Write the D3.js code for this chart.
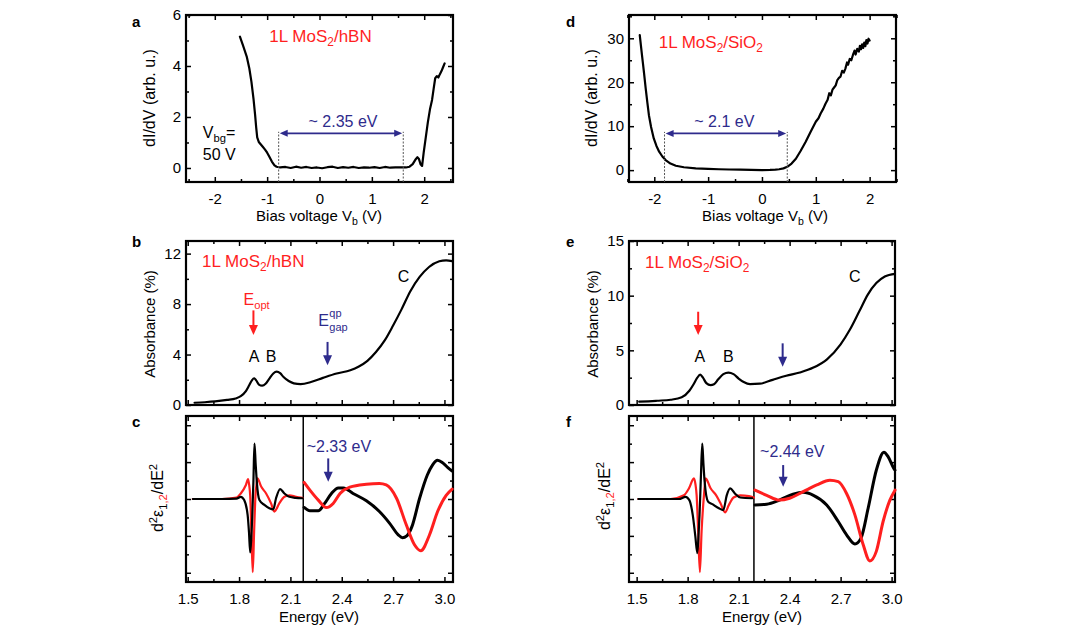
<!DOCTYPE html>
<html><head><meta charset="utf-8">
<script src="https://cdn.jsdelivr.net/npm/d3@7"></script>
<style>body{margin:0;background:#fff}svg{display:block}</style>
</head><body><svg id="fig" width="1087" height="638"></svg>
<script>
// ---------- DATA ----------
// Panel a: STS dI/dV on hBN, [bias V, dI/dV]
const aCurve = [[-1.52,5.15],[-1.46,4.8],[-1.39,4.37],[-1.34,3.9],[-1.30,3.38],[-1.26,2.7],[-1.23,2.08],[-1.21,1.6],[-1.19,1.2],[-1.16,1.02],[-1.12,0.92],[-1.08,0.82],[-1.04,0.72],[-1.00,0.6],[-0.96,0.45],[-0.91,0.25],[-0.86,0.1],[-0.82,0.05],[-0.75,0.02],[-0.65,0.04],[-0.55,0.0],[-0.45,0.05],[-0.35,0.01],[-0.25,0.04],[-0.15,0.0],[-0.05,0.02],[0.05,-0.01],[0.15,0.03],[0.25,0.05],[0.35,0.0],[0.45,0.03],[0.55,0.01],[0.65,0.04],[0.75,0.0],[0.85,0.02],[0.95,0.01],[1.05,0.03],[1.15,0.0],[1.25,0.04],[1.35,0.01],[1.45,0.02],[1.55,0.02],[1.65,0.02],[1.72,0.05],[1.78,0.15],[1.83,0.32],[1.87,0.42],[1.90,0.35],[1.93,0.15],[1.96,0.08],[1.99,0.6],[2.03,1.2],[2.07,1.8],[2.11,2.3],[2.15,2.67],[2.18,3.1],[2.21,3.52],[2.24,3.6],[2.27,3.55],[2.30,3.68],[2.33,3.8],[2.36,3.95],[2.39,4.1]];
// Panel d: STS dI/dV on SiO2
const dCurve = [[-2.27,30.7],[-2.25,28.5],[-2.23,26.3],[-2.21,24.2],[-2.19,22],[-2.16,18.6],[-2.13,15.5],[-2.10,12.5],[-2.06,9.8],[-2.01,7.2],[-1.96,5.5],[-1.91,4.2],[-1.85,3.1],[-1.79,2.3],[-1.70,1.5],[-1.60,1.0],[-1.45,0.65],[-1.23,0.4],[-1.0,0.3],[-0.8,0.2],[-0.61,0.15],[-0.4,0.1],[-0.2,0.05],[0,0.0],[0.15,0.05],[0.25,0.12],[0.32,0.2],[0.40,0.4],[0.47,0.75],[0.55,1.5],[0.63,2.6],[0.72,4.4],[0.81,6.4],[0.90,8.6],[1.00,11],[1.05,11.8],[1.09,12.9],[1.14,14.0],[1.18,15.1],[1.22,16.0],[1.25,17.5],[1.28,17.0],[1.31,18.3],[1.34,18.8],[1.37,19.3],[1.40,20.5],[1.43,21.0],[1.46,21.3],[1.49,22.6],[1.52,22.2],[1.55,23.1],[1.58,24.5],[1.60,24.0],[1.63,25.3],[1.66,25.0],[1.69,26.2],[1.72,27.2],[1.74,26.3],[1.77,27.6],[1.80,27.0],[1.82,28.3],[1.84,27.5],[1.86,28.6],[1.88,27.8],[1.90,29.0],[1.92,28.2],[1.94,29.6],[1.96,28.8],[1.98,29.9],[2.00,29.5]];
// Panel b: absorbance on hBN, [energy eV, %]
const bCurve = [[1.54,0.18],[1.60,0.22],[1.66,0.28],[1.73,0.4],[1.78,0.52],[1.81,0.7],[1.84,1.1],[1.86,1.58],[1.875,1.95],[1.888,2.12],[1.90,1.95],[1.916,1.62],[1.935,1.53],[1.955,1.68],[1.975,2.05],[2.0,2.5],[2.02,2.64],[2.04,2.52],[2.06,2.22],[2.09,1.9],[2.12,1.72],[2.16,1.66],[2.22,1.82],[2.29,2.15],[2.37,2.5],[2.45,2.75],[2.50,3.05],[2.55,3.5],[2.60,4.2],[2.65,5.1],[2.70,6.3],[2.75,7.6],[2.80,9.0],[2.855,10.15],[2.91,10.94],[2.97,11.39],[3.01,11.47],[3.045,11.4]];
// Panel e: absorbance on SiO2
const eCurve = [[1.515,0.3],[1.57,0.34],[1.62,0.39],[1.70,0.48],[1.765,0.7],[1.81,1.3],[1.835,1.9],[1.855,2.45],[1.874,2.78],[1.89,2.5],[1.91,2.0],[1.935,1.82],[1.955,1.9],[1.98,2.35],[2.01,2.82],[2.04,2.97],[2.07,2.82],[2.10,2.42],[2.13,2.1],[2.167,1.91],[2.225,1.95],[2.30,2.3],[2.38,2.67],[2.46,2.97],[2.54,3.42],[2.62,4.18],[2.70,5.55],[2.755,6.9],[2.81,8.57],[2.86,10.1],[2.91,11.15],[2.96,11.75],[3.02,12.0]];
// Panel c: second derivatives (black = eps1, red = eps2), left and right of divider
const cBlackL = [[1.53,0],[1.6,0],[1.7,0],[1.785,0.01],[1.81,0.06],[1.83,-0.03],[1.85,-0.43],[1.858,-0.9],[1.865,-1.45],[1.872,-1.0],[1.877,-0.5],[1.884,0.5],[1.89,1.5],[1.897,0.95],[1.904,0.45],[1.919,-0.03],[1.948,-0.16],[1.977,-0.25],[2.0,-0.28],[2.016,0.02],[2.04,0.27],[2.065,0.15],[2.094,0.06],[2.13,0.03],[2.17,0.02]];
const cRedL = [[1.53,0],[1.7,0],[1.785,0.04],[1.81,0.15],[1.84,0.38],[1.853,0.54],[1.86,0.35],[1.865,0.1],[1.872,-0.88],[1.88,-1.98],[1.888,-0.88],[1.896,0.1],[1.904,0.45],[1.907,0.56],[1.93,0.33],[1.958,0.15],[1.987,-0.12],[2.006,-0.34],[2.035,-0.12],[2.065,0.06],[2.094,0.1],[2.133,0.06],[2.17,0.03]];
const cBlackR = [[2.18,-0.23],[2.214,-0.32],[2.263,-0.32],[2.30,-0.12],[2.34,0.15],[2.38,0.3],[2.41,0.3],[2.466,0.15],[2.544,-0.05],[2.62,-0.34],[2.68,-0.66],[2.73,-0.97],[2.755,-1.05],[2.78,-1.0],[2.81,-0.75],[2.855,0.02],[2.90,0.65],[2.93,0.92],[2.96,1.05],[2.99,0.98],[3.02,0.85],[3.045,0.76]];
const cRedR = [[2.18,0.45],[2.214,0.24],[2.263,-0.03],[2.31,-0.23],[2.35,-0.12],[2.39,0.15],[2.447,0.32],[2.544,0.4],[2.62,0.42],[2.66,0.38],[2.72,0.02],[2.777,-0.7],[2.825,-1.24],[2.862,-1.4],[2.913,-0.97],[2.96,-0.34],[3.01,0.1],[3.045,0.27]];
// Panel f
const fBlackL = [[1.51,0],[1.6,0],[1.749,0.0],[1.788,0.06],[1.81,-0.03],[1.83,-0.43],[1.845,-1.0],[1.857,-1.47],[1.865,-0.9],[1.87,-0.43],[1.878,0.6],[1.886,1.5],[1.893,0.95],[1.90,0.47],[1.92,-0.07],[1.945,-0.14],[1.984,-0.25],[2.01,-0.3],[2.03,0.1],[2.05,0.29],[2.078,0.15],[2.11,0.04],[2.18,0.02]];
const fRedL = [[1.51,0],[1.70,0],[1.778,0.1],[1.808,0.29],[1.837,0.56],[1.846,0.4],[1.853,0.1],[1.862,-0.88],[1.872,-1.98],[1.882,-0.88],[1.896,0.1],[1.906,0.56],[1.935,0.29],[1.968,0.1],[1.994,-0.12],[2.02,-0.36],[2.043,-0.16],[2.07,0.04],[2.11,0.1],[2.16,0.08],[2.19,0.04]];
const fBlackR = [[2.196,-0.16],[2.265,-0.14],[2.34,-0.03],[2.42,0.13],[2.48,0.18],[2.54,0.1],[2.618,-0.16],[2.686,-0.61],[2.735,-0.97],[2.784,-1.22],[2.82,-1.06],[2.862,-0.25],[2.91,0.78],[2.955,1.27],[2.98,1.14],[3.013,0.83],[3.02,0.78]];
const fRedR = [[2.196,0.24],[2.265,0.1],[2.34,-0.03],[2.40,0.02],[2.48,0.2],[2.56,0.38],[2.637,0.51],[2.686,0.47],[2.735,0.15],[2.784,-0.43],[2.833,-1.24],[2.872,-1.68],[2.91,-1.42],[2.95,-0.61],[2.99,-0.03],[3.02,0.24]];

// Tick values
const biasMajor = [-2,-1,0,1,2], biasMinor = [-2.5,-1.5,-0.5,0.5,1.5,2.5];
const aYMajor = [0,2,4,6], aYMinor = [1,3,5];
const dYMajor = [0,10,20,30], dYMinor = [5,15,25,35];
const eMajor = [1.5,1.8,2.1,2.4,2.7,3.0], eMinor = [1.65,1.95,2.25,2.55,2.85];
const bYMajor = [0,4,8,12], bYMinor = [2,6,10];
const eYMajor = [0,5,10,15], eYMinor = [2.5,7.5,12.5];
const dYMaj2 = [-2,-1,0,1,2], dYMin2 = [-1.5,-0.5,0.5,1.5];

// ---------- DRAW ----------
const FONT = '"Liberation Sans", Arial, Helvetica, sans-serif';
const BLUE = '#2e2b8c', RED = '#ff1f1f';
const intFmt = d => String(d);           // plain hyphen minus like the original
const oneFmt = d => d.toFixed(1);
const svg = d3.select('#fig').style('font-family', FONT);
svg.append('rect').attr('width',1087).attr('height',638).attr('fill','#fff');

function axis(gen, tr, labels, fmt, pad) {
  const g = svg.append('g').attr('transform', tr).call(gen.tickFormat(labels ? fmt : '').tickPadding(pad || 4));
  g.select('.domain').remove();
  g.selectAll('line').attr('stroke','#000').attr('stroke-width',1.5);
  g.selectAll('text').attr('font-size',15).attr('font-family',FONT).attr('fill','#000');
  g.attr('font-size',null).attr('font-family',null);
  return g;
}
function panel(x, y, xMaj, xMin, yMaj, yMin, xLab, yLab, xFmt, yFmt) {
  const [x0,x1] = x.range(), [y0,y1] = y.range();
  axis(d3.axisBottom(x).tickValues(xMaj).tickSize(-5), `translate(0,${y0})`, xLab, xFmt, 11);
  axis(d3.axisBottom(x).tickValues(xMin).tickSize(-3), `translate(0,${y0})`, false);
  axis(d3.axisTop(x).tickValues(xMaj).tickSize(-5), `translate(0,${y1})`, false);
  axis(d3.axisTop(x).tickValues(xMin).tickSize(-3), `translate(0,${y1})`, false);
  axis(d3.axisLeft(y).tickValues(yMaj).tickSize(-5), `translate(${x0},0)`, yLab, yFmt, 5);
  axis(d3.axisLeft(y).tickValues(yMin).tickSize(-3), `translate(${x0},0)`, false);
  axis(d3.axisRight(y).tickValues(yMaj).tickSize(-5), `translate(${x1},0)`, false);
  axis(d3.axisRight(y).tickValues(yMin).tickSize(-3), `translate(${x1},0)`, false);
  svg.append('rect').attr('x',x0).attr('y',y1).attr('width',x1-x0).attr('height',y0-y1)
    .attr('fill','none').attr('stroke','#000').attr('stroke-width',2.2);
}
function curve(x, y, data, color, w, cv) {
  svg.append('path').datum(data).attr('fill','none').attr('stroke',color).attr('stroke-width',w)
    .attr('stroke-linejoin','round').attr('stroke-linecap','round')
    .attr('d', d3.line().x(d=>x(d[0])).y(d=>y(d[1])).curve(cv || d3.curveMonotoneX));
}
function downArrow(px, pyTop, pyTip, color) {
  svg.append('line').attr('x1',px).attr('x2',px).attr('y1',pyTop).attr('y2',pyTip-7)
    .attr('stroke',color).attr('stroke-width',2);
  svg.append('path').attr('d',`M${px-4.5},${pyTip-10}L${px+4.5},${pyTip-10}L${px},${pyTip}Z`).attr('fill',color);
}
function dblArrow(pxA, pxB, py, color) {
  svg.append('line').attr('x1',pxA+5).attr('x2',pxB-5).attr('y1',py).attr('y2',py)
    .attr('stroke',color).attr('stroke-width',1.8);
  svg.append('path').attr('d',`M${pxA},${py}L${pxA+8},${py-3.5}L${pxA+8},${py+3.5}Z`).attr('fill',color);
  svg.append('path').attr('d',`M${pxB},${py}L${pxB-8},${py-3.5}L${pxB-8},${py+3.5}Z`).attr('fill',color);
}
function vdotted(px, pyA, pyB) {
  svg.append('line').attr('x1',px).attr('x2',px).attr('y1',pyA).attr('y2',pyB)
    .attr('stroke','#555').attr('stroke-width',1).attr('stroke-dasharray','2,1.5');
}
function txt(px, py, parts, opt) {
  opt = opt || {};
  const t = svg.append('text').attr('x',px).attr('y',py).attr('font-size',opt.size||16)
    .attr('fill',opt.color||'#000').attr('text-anchor',opt.anchor||'start')
    .attr('font-weight',opt.weight||'normal').attr('font-family',FONT);
  if (opt.rotate) t.attr('transform',`rotate(-90,${px},${py})`);
  let shift = 0;
  (Array.isArray(parts)?parts:[parts]).forEach(p => {
    if (typeof p === 'string') p = {t:p};
    const target = p.sub ? 4 : p.sup ? -6 : 0;
    const s = t.append('tspan').text(p.t).attr('dy', target - shift);
    if (p.sub || p.sup) s.attr('font-size', (opt.size||16)*0.7);
    if (p.color) s.attr('fill', p.color);
    shift = target;
  });
  return t;
}
const hbn = ['1L MoS',{t:'2',sub:true},'/hBN'];
const sio = ['1L MoS',{t:'2',sub:true},'/SiO',{t:'2',sub:true}];
const d2eps = ['d',{t:'2',sup:true},'ε',{t:'1',sub:true},{t:',2',sub:true,color:RED},'/dE',{t:'2',sup:true}];

// ===== Panel a =====
{
  const x = d3.scaleLinear([-2.55,2.55],[186,453]);
  const y = d3.scaleLinear([-0.55,6],[182,15]);
  panel(x,y,biasMajor,biasMinor,aYMajor,aYMinor,true,true,intFmt,intFmt);
  curve(x,y,aCurve,'#000',2.2,d3.curveLinear);
  vdotted(x(-0.78), y(-0.55), y(1.42)); vdotted(x(1.6), y(-0.55), y(1.42));
  dblArrow(x(-0.76), x(1.58), y(1.36), BLUE);
  txt(x(0.45), y(1.62), '~ 2.35 eV', {color:BLUE, anchor:'middle'});
  txt(x(0.02), y(4.93), hbn, {color:RED, anchor:'middle', size:17});
  txt(x(-2.23), y(1.18), ['V',{t:'bg',sub:true},'='], {size:16});
  txt(x(-2.23), y(0.31), '50 V', {size:16});
  txt(319, 221, ['Bias voltage V',{t:'b',sub:true},' (V)'], {size:15, anchor:'middle'});
  txt(155, 98, 'dI/dV (arb. u.)', {size:16, anchor:'middle', rotate:true});
  txt(132, 27, 'a', {size:15, weight:'bold'});
}
// ===== Panel d =====
{
  const x = d3.scaleLinear([-2.47,2.49],[629,896]);
  const y = d3.scaleLinear([-2.7,35.3],[182,15]);
  panel(x,y,biasMajor,biasMinor,dYMajor,dYMinor,true,true,intFmt,intFmt);
  curve(x,y,dCurve,'#000',2.2,d3.curveLinear);
  vdotted(x(-1.81), y(-2.7), y(8.7)); vdotted(x(0.47), y(-2.7), y(8.7));
  dblArrow(x(-1.79), x(0.45), y(8.35), BLUE);
  txt(x(-0.70), y(9.86), '~ 2.1 eV', {color:BLUE, anchor:'middle'});
  txt(x(-0.95), y(27.7), sio, {color:RED, anchor:'middle', size:17});
  txt(765, 221, ['Bias voltage V',{t:'b',sub:true},' (V)'], {size:15, anchor:'middle'});
  txt(597, 98, 'dI/dV (arb. u.)', {size:16, anchor:'middle', rotate:true});
  txt(566, 27, 'd', {size:15, weight:'bold'});
}
// ===== Panel b =====
{
  const x = d3.scaleLinear([1.49,3.05],[186,453]);
  const y = d3.scaleLinear([0,13],[405,241]);
  panel(x,y,eMajor,eMinor,bYMajor,bYMinor,false,true,null,intFmt);
  curve(x,y,bCurve,'#000',2.2);
  txt(x(1.584), y(10.94), hbn, {color:RED, size:17});
  txt(x(1.826), y(7.9), ['E',{t:'opt',sub:true}], {color:RED});
  downArrow(x(1.884), y(7.5), y(5.54), RED);
  txt(x(1.888), y(3.43), 'A', {anchor:'middle'});
  txt(x(1.987), y(3.43), 'B', {anchor:'middle'});
  txt(x(2.263), y(6.25), 'E', {color:BLUE});
  txt(x(2.263)+11, y(6.25)-9, 'qp', {color:BLUE, size:11});
  txt(x(2.263)+11, y(6.25)+5, 'gap', {color:BLUE, size:11});
  downArrow(x(2.317), y(5.0), y(3.16), BLUE);
  txt(x(2.761), y(9.75), 'C', {anchor:'middle'});
  txt(155, 324, 'Absorbance (%)', {size:15, anchor:'middle', rotate:true});
  txt(132, 247, 'b', {size:15, weight:'bold'});
}
// ===== Panel e =====
{
  const x = d3.scaleLinear([1.455,3.02],[629,895]);
  const y = d3.scaleLinear([0,15],[405,241]);
  panel(x,y,eMajor,eMinor,eYMajor,eYMinor,false,true,null,intFmt);
  curve(x,y,eCurve,'#000',2.2);
  txt(x(1.549), y(12.5), sio, {color:RED, size:17});
  downArrow(x(1.862), y(8.53), y(6.4), RED);
  txt(x(1.872), y(3.96), 'A', {anchor:'middle'});
  txt(x(2.039), y(3.96), 'B', {anchor:'middle'});
  downArrow(x(2.359), y(5.64), y(3.5), BLUE);
  txt(x(2.784), y(11.28), 'C', {anchor:'middle'});
  txt(598, 324, 'Absorbance (%)', {size:15, anchor:'middle', rotate:true});
  txt(566, 247, 'e', {size:15, weight:'bold'});
}
// ===== Panel c =====
{
  const x = d3.scaleLinear([1.49,3.05],[186,453]);
  const y = d3.scaleLinear([-2.25,2.25],[582,416]);
  panel(x,y,eMajor,eMinor,dYMaj2,dYMin2,true,false,oneFmt,null);
  svg.append('line').attr('x1',x(2.175)).attr('x2',x(2.175)).attr('y1',y(-2.25)).attr('y2',y(2.25))
    .attr('stroke','#000').attr('stroke-width',1.5);
  curve(x,y,cRedL,RED,2.2); curve(x,y,cBlackL,'#000',2.2);
  curve(x,y,cBlackR,'#000',3); curve(x,y,cRedR,RED,3);
  txt(x(2.195), y(1.28), '~2.33 eV', {color:BLUE});
  downArrow(x(2.321), y(1.1), y(0.47), BLUE);
  txt(319, 622, 'Energy (eV)', {size:15, anchor:'middle'});
  txt(163, 498, d2eps, {size:16, anchor:'middle', rotate:true});
  txt(132, 427, 'c', {size:15, weight:'bold'});
}
// ===== Panel f =====
{
  const x = d3.scaleLinear([1.455,3.02],[629,895]);
  const y = d3.scaleLinear([-2.25,2.25],[582,416]);
  panel(x,y,eMajor,eMinor,dYMaj2,dYMin2,true,false,oneFmt,null);
  svg.append('line').attr('x1',x(2.19)).attr('x2',x(2.19)).attr('y1',y(-2.25)).attr('y2',y(2.25))
    .attr('stroke','#000').attr('stroke-width',1.5);
  curve(x,y,fRedL,RED,2.2); curve(x,y,fBlackL,'#000',2.2);
  curve(x,y,fBlackR,'#000',3); curve(x,y,fRedR,RED,3);
  txt(x(2.226), y(1.15), '~2.44 eV', {color:BLUE});
  downArrow(x(2.362), y(0.92), y(0.33), BLUE);
  txt(762, 622, 'Energy (eV)', {size:15, anchor:'middle'});
  txt(610, 496, d2eps, {size:16, anchor:'middle', rotate:true});
  txt(566, 427, 'f', {size:15, weight:'bold'});
}
</script></body></html>
